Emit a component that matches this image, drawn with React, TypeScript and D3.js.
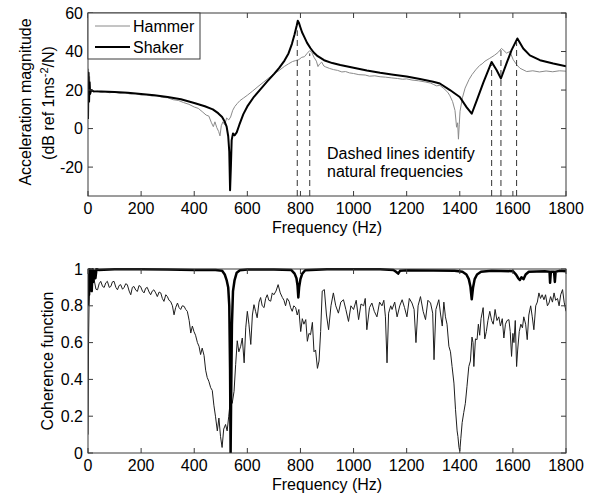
import React from "react";
import * as d3 from "d3";

// ---------- data ----------
const freqTicks = [0, 200, 400, 600, 800, 1000, 1200, 1400, 1600, 1800];
const dbTicks = [-20, 0, 20, 40, 60];
const cohTicks = [0, 0.2, 0.4, 0.6, 0.8, 1];

// [frequency Hz, dB]
const shakerFRF: [number, number][] = [
  [0, 5], [2, 29], [4, 14], [6, 24], [8, 18], [12, 20], [20, 19.4], [50, 19.3], [100, 19.0], [150, 18.6],
  [200, 18.0], [250, 17.3], [300, 16.4], [350, 15.2], [400, 13.3], [440, 11.6], [470, 10.0], [490, 8.0],
  [505, 6.0], [515, 3.5], [522, 1.0], [528, -4], [532, -12], [535, -32], [538, -20], [541, -6], [546, -2.5],
  [552, -3.5], [560, -2.0], [570, 2.0], [585, 7.5], [600, 11.5], [625, 16.5], [650, 20.5], [675, 24.5],
  [700, 28.3], [720, 31.5], [740, 35.3], [755, 39.0], [768, 44.0], [778, 49.0], [786, 53.5], [790, 56.0],
  [794, 55.0], [800, 52.5], [806, 50.0], [813, 48.0], [825, 44.5], [838, 41.7], [850, 39.5], [865, 37.6],
  [889, 35.5], [920, 34.0], [950, 33.0], [1000, 31.6], [1050, 30.2], [1100, 29.0], [1150, 28.0],
  [1200, 27.0], [1250, 25.7], [1300, 24.3], [1325, 23.4], [1363, 20.0], [1400, 16.4], [1426, 11.0],
  [1445, 7.7], [1464, 14.6], [1489, 24.0], [1520, 34.6], [1539, 30.3], [1555, 26.0], [1576, 33.8],
  [1595, 40.7], [1617, 46.8], [1639, 41.6], [1664, 38.0], [1702, 35.5], [1752, 33.8], [1800, 32.4],
];

const hammerFRF: [number, number][] = [
  [0, 8], [2, 31], [4, 22], [6, 27], [8, 19], [12, 20], [20, 19], [35, 19.4], [50, 18.8], [65, 19.2],
  [80, 18.6], [100, 18.9], [120, 18.3], [140, 18.6], [160, 17.9], [180, 18.2], [200, 17.4], [220, 17.6],
  [240, 16.9], [260, 17.1], [280, 16.2], [300, 16.0], [320, 15.0], [340, 14.6], [360, 13.5], [380, 12.6],
  [400, 11.2], [415, 10.5], [430, 8.8], [445, 7.0], [455, 6.5], [465, 3.0], [472, 1.0], [478, 3.5],
  [485, 0.5], [492, -1.5], [497, -3.8], [502, 1.5], [508, 3.5], [515, 2.0], [522, 5.5], [530, 4.5],
  [537, 6.0], [545, 9.5], [553, 11.5], [562, 13.0], [572, 14.5], [585, 15.8], [600, 17.3], [620, 19.5],
  [640, 21.8], [660, 24.0], [680, 26.2], [700, 28.3], [720, 30.2], [740, 32.3], [755, 33.6], [770, 34.8],
  [782, 35.3], [794, 35.8], [805, 37.0], [815, 37.3], [825, 39.0], [835, 40.5], [843, 39.5], [851, 37.0],
  [860, 35.0], [866, 32.2], [872, 33.5], [880, 34.5], [888, 32.5], [895, 32.0], [910, 31.2], [925, 30.6],
  [940, 30.2], [956, 29.4], [970, 29.6], [985, 28.9], [1000, 28.6], [1020, 28.0], [1044, 27.8],
  [1060, 27.2], [1080, 27.4], [1100, 26.9], [1120, 26.7], [1144, 26.3], [1165, 26.0], [1185, 25.6],
  [1200, 25.8], [1220, 25.2], [1245, 24.8], [1270, 24.2], [1290, 23.6], [1300, 23.0], [1312, 22.2],
  [1325, 22.4], [1340, 20.8], [1355, 18.8], [1363, 17.0], [1373, 14.0], [1382, 9.4], [1388, 0.7],
  [1392, 3.0], [1395, -5.5], [1398, 2.0], [1401, 9.0], [1410, 16.0], [1420, 21.0], [1435, 25.5],
  [1446, 28.0], [1460, 30.5], [1475, 32.8], [1484, 33.6], [1495, 35.0], [1513, 36.5], [1530, 38.0],
  [1545, 39.6], [1551, 40.7], [1557, 41.6], [1566, 40.5], [1576, 39.2], [1589, 40.0], [1601, 35.8],
  [1615, 33.0], [1627, 31.3], [1652, 29.6], [1675, 30.0], [1700, 29.4], [1725, 29.9], [1750, 29.5],
  [1775, 30.0], [1800, 29.8],
];

// natural frequencies (Hz) and the dB the dashed marker reaches
const naturalFreqs = [788, 835, 1520, 1555, 1614];
const naturalLevels = [51, 39, 33, 40.7, 45];

// [frequency Hz, coherence]
const shakerCoh: [number, number][] = [
  [0, 0.8], [2, 0.97], [4, 0.86], [6, 1.0], [8, 0.9], [11, 0.99], [14, 0.88], [17, 1.0], [20, 0.93],
  [24, 0.99], [28, 0.95], [32, 1.0], [40, 0.995], [100, 0.998], [200, 0.998], [300, 0.997], [400, 0.995],
  [480, 0.995], [505, 0.99], [515, 0.97], [522, 0.94], [528, 0.9], [532, 0.8], [535, 0.45], [537, 0.0],
  [539, 0.3], [542, 0.7], [546, 0.88], [552, 0.94], [560, 0.98], [572, 0.993], [600, 0.997], [700, 0.997],
  [765, 0.995], [778, 0.975], [785, 0.95], [789, 0.91], [792, 0.845], [795, 0.9], [800, 0.945],
  [807, 0.975], [818, 0.993], [900, 0.998], [1100, 0.998], [1150, 0.995], [1160, 0.985], [1168, 0.975],
  [1175, 0.99], [1200, 0.993], [1300, 0.992], [1380, 0.99], [1410, 0.985], [1425, 0.97], [1434, 0.945],
  [1440, 0.905], [1445, 0.835], [1450, 0.9], [1456, 0.945], [1465, 0.97], [1480, 0.985], [1520, 0.99],
  [1600, 0.988], [1612, 0.97], [1620, 0.95], [1626, 0.94], [1632, 0.955], [1640, 0.945], [1648, 0.97],
  [1660, 0.985], [1720, 0.988], [1738, 0.985], [1740, 0.925], [1743, 0.985], [1755, 0.985], [1758, 0.93],
  [1761, 0.985], [1775, 0.99], [1800, 0.988],
];

const hammerCoh: [number, number][] = [
  [0, 0.1], [2, 0.6], [4, 0.8], [6, 0.9], [11, 0.878], [17, 0.93], [23, 0.942], [30, 0.89], [36, 0.887],
  [42, 0.92], [48, 0.933], [55, 0.905], [61, 0.9], [67, 0.925], [73, 0.933], [80, 0.9], [86, 0.905],
  [92, 0.93], [98, 0.933], [105, 0.9], [111, 0.887], [117, 0.91], [123, 0.915], [130, 0.89], [136, 0.9],
  [142, 0.92], [148, 0.915], [155, 0.88], [161, 0.86], [167, 0.9], [173, 0.905], [180, 0.885],
  [186, 0.878], [192, 0.91], [198, 0.905], [205, 0.88], [211, 0.87], [217, 0.895], [223, 0.9],
  [230, 0.875], [236, 0.86], [242, 0.88], [248, 0.887], [255, 0.87], [261, 0.85], [268, 0.875],
  [274, 0.87], [280, 0.84], [286, 0.824], [293, 0.86], [299, 0.85], [305, 0.83], [311, 0.824], [318, 0.8],
  [324, 0.751], [330, 0.79], [337, 0.815], [343, 0.79], [349, 0.78], [355, 0.8], [362, 0.797],
  [368, 0.78], [374, 0.77], [381, 0.72], [387, 0.652], [393, 0.69], [399, 0.66], [405, 0.64], [412, 0.6],
  [418, 0.58], [424, 0.535], [430, 0.57], [437, 0.53], [443, 0.45], [449, 0.41], [455, 0.39],
  [462, 0.355], [468, 0.34], [474, 0.26], [480, 0.2], [487, 0.12], [493, 0.19], [499, 0.09], [505, 0.03],
  [511, 0.13], [518, 0.155], [524, 0.12], [530, 0.2], [537, 0.3], [543, 0.27], [550, 0.335], [556, 0.48],
  [562, 0.61], [568, 0.55], [575, 0.58], [581, 0.625], [588, 0.49], [594, 0.68], [600, 0.77], [606, 0.7],
  [613, 0.59], [619, 0.75], [625, 0.806], [631, 0.77], [637, 0.735], [644, 0.82], [650, 0.845], [656, 0.8],
  [663, 0.79], [669, 0.84], [675, 0.86], [681, 0.83], [688, 0.825], [694, 0.87], [700, 0.86], [708, 0.88],
  [716, 0.915], [724, 0.87], [732, 0.845], [738, 0.83], [744, 0.8], [750, 0.84], [757, 0.825],
  [763, 0.79], [769, 0.77], [775, 0.8], [782, 0.79], [788, 0.75], [794, 0.78], [801, 0.66], [807, 0.73],
  [813, 0.7], [820, 0.725], [826, 0.607], [832, 0.65], [838, 0.643], [845, 0.71], [851, 0.55],
  [857, 0.56], [864, 0.46], [870, 0.5], [876, 0.66], [882, 0.88], [890, 0.888], [898, 0.75], [906, 0.67],
  [915, 0.8], [924, 0.87], [933, 0.8], [943, 0.76], [952, 0.82], [962, 0.833], [971, 0.78], [981, 0.715],
  [990, 0.8], [1000, 0.78], [1010, 0.83], [1019, 0.725], [1028, 0.81], [1038, 0.8], [1044, 0.84],
  [1050, 0.67], [1060, 0.79], [1069, 0.815], [1078, 0.77], [1088, 0.74], [1098, 0.82], [1107, 0.8],
  [1114, 0.83], [1120, 0.74], [1126, 0.49], [1132, 0.76], [1140, 0.8], [1145, 0.78], [1155, 0.82],
  [1164, 0.74], [1174, 0.8], [1183, 0.833], [1192, 0.79], [1201, 0.74], [1210, 0.84], [1220, 0.815],
  [1228, 0.78], [1235, 0.6], [1243, 0.8], [1252, 0.85], [1262, 0.77], [1271, 0.725], [1280, 0.83],
  [1290, 0.815], [1298, 0.76], [1303, 0.507], [1310, 0.78], [1321, 0.833], [1328, 0.75], [1334, 0.69],
  [1340, 0.82], [1346, 0.74], [1352, 0.7], [1359, 0.58], [1365, 0.55], [1371, 0.47], [1378, 0.38],
  [1384, 0.235], [1390, 0.12], [1393, 0.09], [1397, 0.03], [1400, 0.01], [1404, 0.08], [1409, 0.165],
  [1415, 0.22], [1421, 0.27], [1427, 0.36], [1434, 0.47], [1440, 0.5], [1446, 0.63], [1450, 0.6],
  [1453, 0.47], [1459, 0.62], [1465, 0.616], [1470, 0.7], [1475, 0.64], [1480, 0.73], [1488, 0.79],
  [1494, 0.62], [1500, 0.66], [1506, 0.72], [1513, 0.77], [1520, 0.72], [1526, 0.7], [1533, 0.78],
  [1540, 0.72], [1547, 0.74], [1553, 0.69], [1560, 0.73], [1566, 0.625], [1572, 0.7], [1578, 0.72],
  [1585, 0.725], [1590, 0.66], [1595, 0.525], [1600, 0.65], [1604, 0.6], [1609, 0.72], [1614, 0.47],
  [1618, 0.56], [1624, 0.66], [1630, 0.7], [1636, 0.68], [1641, 0.74], [1648, 0.7], [1654, 0.616],
  [1660, 0.75], [1667, 0.8], [1673, 0.74], [1679, 0.67], [1686, 0.8], [1692, 0.82], [1698, 0.87],
  [1704, 0.84], [1710, 0.86], [1717, 0.833], [1723, 0.86], [1730, 0.8], [1736, 0.815], [1742, 0.85],
  [1749, 0.82], [1755, 0.87], [1761, 0.83], [1768, 0.84], [1774, 0.8], [1780, 0.86], [1787, 0.888],
  [1793, 0.82], [1800, 0.77],
];

// ---------- layout ----------
const W = 592;
const H = 496;
const FONT = "'Liberation Sans', Arial, Helvetica, sans-serif";
const left = 88;
const right = 566;
const top1 = 13;
const bot1 = 196;
const top2 = 269;
const bot2 = 453;
const TICK = 5;
const FRAME = "#3a3a3a";

export default function App() {
  const x = d3.scaleLinear().domain([0, 1800]).range([left, right]);
  const y1 = d3.scaleLinear().domain([-35, 60]).range([bot1, top1]);
  const y2 = d3.scaleLinear().domain([0, 1]).range([bot2, top2]);

  const line1 = d3
    .line<[number, number]>()
    .x((d) => x(d[0]))
    .y((d) => y1(d[1]));
  const line2 = d3
    .line<[number, number]>()
    .x((d) => x(d[0]))
    .y((d) => y2(d[1]));

  const frame = (t: number, b: number, yScale: d3.ScaleLinear<number, number>, yt: number[], fmt: (v: number) => string, key: string) => (
    <g key={key}>
      {freqTicks.map((f) => (
        <g key={"xt" + f}>
          <line x1={x(f)} x2={x(f)} y1={b} y2={b - TICK} stroke={FRAME} />
          <line x1={x(f)} x2={x(f)} y1={t} y2={t + TICK} stroke={FRAME} />
          <text x={x(f)} y={b + 18} textAnchor="middle" fontSize={16} fontFamily={FONT} fill="#000">
            {f}
          </text>
        </g>
      ))}
      {yt.map((v) => (
        <g key={"yt" + v}>
          <line x1={left} x2={left + TICK} y1={yScale(v)} y2={yScale(v)} stroke={FRAME} />
          <line x1={right} x2={right - TICK} y1={yScale(v)} y2={yScale(v)} stroke={FRAME} />
          <text x={83} y={yScale(v) + 5.5} textAnchor="end" fontSize={16} fontFamily={FONT} fill="#000">
            {fmt(v)}
          </text>
        </g>
      ))}
      <rect x={left} y={t} width={right - left} height={b - t} fill="none" stroke={FRAME} strokeWidth={1} />
      <text x={(left + right) / 2} y={b + 37} textAnchor="middle" fontSize={16} fontFamily={FONT} fill="#000">
        Frequency (Hz)
      </text>
    </g>
  );

  return (
    <svg width={W} height={H} style={{ position: "absolute", left: 0, top: 0, background: "#fff" }}>
      <rect x={0} y={0} width={W} height={H} fill="#fff" />
      <defs>
        <clipPath id="c1">
          <rect x={left} y={top1} width={right - left} height={bot1 - top1} />
        </clipPath>
        <clipPath id="c2">
          <rect x={left} y={top2 - 1} width={right - left} height={bot2 - top2 + 1} />
        </clipPath>
      </defs>

      {/* ---- top plot ---- */}
      <g clipPath="url(#c1)">
        <path d={line1(hammerFRF) ?? ""} fill="none" stroke="#8a8a8a" strokeWidth={1} />
        <path d={line1(shakerFRF) ?? ""} fill="none" stroke="#000" strokeWidth={2} strokeLinejoin="round" />
        {naturalFreqs.map((f, i) => (
          <line
            key={"nf" + f}
            x1={x(f)}
            x2={x(f)}
            y1={bot1}
            y2={y1(naturalLevels[i])}
            stroke="#333"
            strokeWidth={1}
            strokeDasharray="6,4"
          />
        ))}
      </g>
      {frame(top1, bot1, y1, dbTicks, (v) => String(v), "f1")}

      <text x={327} y={159} fontSize={16} fontFamily={FONT} fill="#000">
        Dashed lines identify
      </text>
      <text x={327} y={177} fontSize={16} fontFamily={FONT} fill="#000">
        natural frequencies
      </text>

      {/* legend */}
      <rect x={left} y={top1} width={112} height={46} fill="#fff" stroke={FRAME} />
      <line x1={95} x2={130} y1={26} y2={26} stroke="#8a8a8a" strokeWidth={1} />
      <text x={133} y={31.5} fontSize={16} fontFamily={FONT} fill="#000">
        Hammer
      </text>
      <line x1={95} x2={130} y1={47} y2={47} stroke="#000" strokeWidth={2} />
      <text x={133} y={52.5} fontSize={16} fontFamily={FONT} fill="#000">
        Shaker
      </text>

      <text transform="translate(31,102) rotate(-90)" textAnchor="middle" fontSize={16} fontFamily={FONT} fill="#000">
        Acceleration magnitude
      </text>
      <text transform="translate(54,103) rotate(-90)" textAnchor="middle" fontSize={16} fontFamily={FONT} fill="#000">
        (dB ref 1ms
        <tspan dy={-6} fontSize={11}>
          -2
        </tspan>
        <tspan dy={6}>/N)</tspan>
      </text>

      {/* ---- bottom plot ---- */}
      <g clipPath="url(#c2)">
        <path d={line2(hammerCoh) ?? ""} fill="none" stroke="#1e1e1e" strokeWidth={1} />
        <path d={line2(shakerCoh) ?? ""} fill="none" stroke="#000" strokeWidth={2.5} strokeLinejoin="round" />
      </g>
      {frame(top2, bot2, y2, cohTicks, (v) => String(v), "f2")}

      <text transform="translate(53,361) rotate(-90)" textAnchor="middle" fontSize={16} fontFamily={FONT} fill="#000">
        Coherence function
      </text>
    </svg>
  );
}
